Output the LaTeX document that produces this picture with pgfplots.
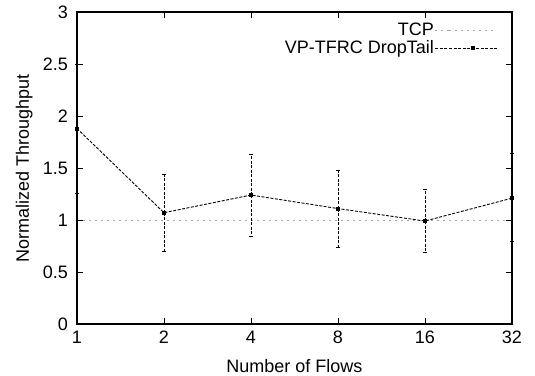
\documentclass[border=0pt]{standalone}
\usepackage{pgfplots}
\pgfplotsset{compat=1.18}
\usepackage{fontspec}
\setmainfont{Liberation Sans}
\pgfplotstableread{
x y ep em
0 1.88 0.62 0.62
1 1.07 0.37 0.37
2 1.24 0.39 0.40
3 1.11 0.37 0.37
4 0.99 0.30 0.30
5 1.21 0.43 0.42
}\vptfrc
\begin{document}
\fontsize{18}{21}\selectfont
\begin{tikzpicture}
\begin{axis}[
  scale only axis, width=435pt, height=312pt,
  xmin=0, xmax=5, ymin=0, ymax=3,
  xtick={0,1,2,3,4,5}, xticklabels={1,2,4,8,16,32},
  ytick={0,0.5,1,1.5,2,2.5,3},
  yticklabels={0,0.5,1,1.5,2,2.5,3},
  /pgf/number format/assume math mode=true,
  tick align=inside, major tick length=6pt,
  tick style={black, line width=0.8pt},
  axis line style={line width=1.2pt},
  axis on top,
  xlabel={Number of Flows}, ylabel={Normalized Throughput},
  ticklabel style={font=\fontsize{18}{21}\selectfont},
  label style={font=\fontsize{18}{21}\selectfont},
  xticklabel style={yshift=-1pt},
  yticklabel style={xshift=-3pt},
  xlabel style={yshift=-3pt},
  ylabel style={yshift=-2pt},
  clip=false,
  legend style={draw=none, fill=none, at={(rel axis cs:0.975,0.975)}, anchor=north east,
    legend cell align=right, row sep=0pt, font=\fontsize{18}{21}\selectfont,
    nodes={inner sep=1pt}},
  legend plot pos=right,
  legend image code/.code={\path (0pt,0pt) -- (14pt,0pt); \draw[mark repeat=2,mark phase=2,#1] plot coordinates {(14pt,0pt) (38pt,0pt) (62pt,0pt)};},
]
\addplot[gray!70, line width=0.9pt, dash pattern=on 2pt off 4pt] coordinates {(0,1) (5,1)};
\addlegendentry{TCP}
\addplot[black, line width=0.9pt, dash pattern=on 3pt off 1.5pt, mark=square*, mark size=1.5pt,
  mark options={solid},
  error bars/.cd, y dir=both, y explicit,
  error bar style={line width=0.9pt, dash pattern=on 3pt off 1.5pt},
  error mark options={rotate=90, mark size=2pt, solid, line width=0.9pt}]
  table[x=x, y=y, y error plus=ep, y error minus=em] {\vptfrc};
\addlegendentry{VP-TFRC DropTail}
\coordinate (bl) at (rel axis cs:-0.177,-0.1667);
\coordinate (tr) at (rel axis cs:1.053,1.0385);
\end{axis}
\pgfresetboundingbox
\path (bl) rectangle (tr);
\end{tikzpicture}
\end{document}
